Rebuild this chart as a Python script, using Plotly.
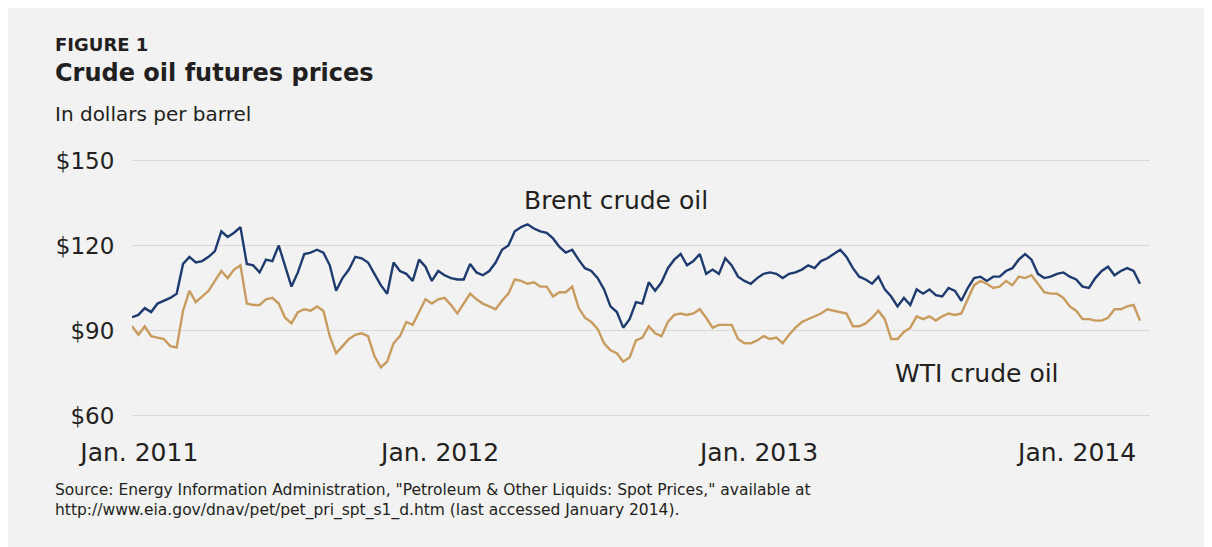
import pandas as pd
import plotly.graph_objects as go

week_start = "2011-01-03"
n_weeks = 159

brent = [
    94.7, 95.5, 97.9, 96.5, 99.5, 100.5, 101.5, 103, 113.5, 116,
    114, 114.5, 116, 118, 125, 123, 124.5, 126.5, 113.5, 113,
    110.5, 115, 114.5, 120, 113, 105.5, 110.5, 117, 117.5, 118.5,
    117.5, 113, 104, 108.5, 111.5, 116, 115.5, 114, 110, 106,
    103, 114, 111, 110, 107.5, 115, 112.5, 107.5, 111, 109.5,
    108.5, 108, 108, 113.5, 110.5, 109.5, 111, 114, 118.5, 120,
    125, 126.5, 127.5, 126, 125, 124.5, 122.5, 119.5, 117.5, 118.5,
    115, 112, 111, 108.5, 104.5, 98.5, 96.5, 91, 94, 100,
    99.5, 107, 104, 107, 112, 115, 117, 113, 114.5, 117,
    110, 111.5, 110, 115.5, 113, 109, 107.5, 106.5, 108.5, 110,
    110.5, 110, 108.5, 110, 110.5, 111.5, 113, 112, 114.5, 115.5,
    117, 118.5, 116, 112, 109, 108, 106.5, 109, 104.5, 102,
    98.5, 101.5, 99, 104.5, 103, 104.5, 102.5, 102, 105, 104,
    100.5, 105, 108.5, 109, 107.5, 109, 109, 111, 112, 115,
    117, 115, 110, 108.5, 109, 110, 110.5, 109, 108, 105.5,
    105, 108.5, 111, 112.5, 109.5, 111, 112, 111, 106.5,
]

wti = [
    91.5, 88.5, 91.5, 88, 87.5, 87, 84.5, 84, 97, 104,
    100, 102, 104, 107.5, 111, 108.5, 111.5, 113, 99.5, 99,
    99, 101, 101.5, 99.5, 94.5, 92.5, 96.5, 97.5, 97, 98.5,
    97, 88, 82, 84.5, 87, 88.5, 89, 88, 81, 77,
    79, 85.5, 88, 93, 92, 96.5, 101, 99.5, 101, 101.5,
    99, 96, 99.5, 103, 101, 99.5, 98.5, 97.5, 100.5, 103,
    108, 107.5, 106.5, 107, 105.5, 105.5, 102, 103.5, 103.5, 105.5,
    98, 94.5, 93, 90.5, 85.5, 83, 82, 79, 80.5, 86.5,
    87.5, 91.5, 89, 88, 93, 95.5, 96, 95.5, 96, 97.5,
    94.5, 91, 92, 92, 92, 87, 85.5, 85.5, 86.5, 88,
    87, 87.5, 85.5, 88.5, 91, 93, 94, 95, 96, 97.5,
    97, 96.5, 96, 91.5, 91.5, 92.5, 94.5, 97, 94, 87,
    87, 89.5, 91, 95, 94, 95, 93.5, 95, 96, 95.5,
    96, 101, 106, 107.5, 106.5, 105, 105.5, 107.5, 106, 109,
    108.5, 109.5, 106.5, 103.5, 103, 103, 101.5, 98.5, 97, 94,
    94, 93.5, 93.5, 94.5, 97.5, 97.5, 98.5, 99, 93.5,
]

dates = pd.date_range(week_start, periods=n_weeks, freq="7D")

y_ticks = [60, 90, 120, 150]
y_tick_text = ["&#36;60", "&#36;90", "&#36;120", "&#36;150"]
x_tick_dates = ["2011-01-11", "2011-12-07", "2012-11-21", "2013-11-05"]
x_tick_text = ["Jan. 2011", "Jan. 2012", "Jan. 2013", "Jan. 2014"]

FONT = "DejaVu Sans"
TXT = "#231f20"
BRENT_COLOR = "#1e3b6f"
WTI_COLOR = "#c89b5e"

fig = go.Figure()
fig.add_trace(go.Scatter(x=dates, y=wti, mode="lines", name="WTI crude oil",
                         line=dict(color=WTI_COLOR, width=2.4)))
fig.add_trace(go.Scatter(x=dates, y=brent, mode="lines", name="Brent crude oil",
                         line=dict(color=BRENT_COLOR, width=2.4)))

fig.update_layout(
    width=1212, height=547,
    paper_bgcolor="#f2f2f2", plot_bgcolor="#f2f2f2",
    margin=dict(l=124, r=70, t=144, b=131),
    showlegend=False,
    font=dict(family=FONT, color=TXT),
    xaxis=dict(
        range=["2011-01-03", "2014-01-24"],
        showgrid=False, zeroline=False, showline=False,
        tickvals=x_tick_dates, ticktext=x_tick_text,
        ticks="outside", ticklen=0, ticklabelstandoff=6,
        tickfont=dict(size=25, family=FONT, color=TXT),
    ),
    yaxis=dict(
        range=[57, 153],
        tickvals=y_ticks, ticktext=y_tick_text,
        showgrid=True, gridcolor="#d9d9d9", gridwidth=1,
        zeroline=False, showline=False,
        ticks="outside", ticklen=0, ticklabelstandoff=12,
        tickfont=dict(size=23, family=FONT, color=TXT),
    ),
)

annotations = [
    dict(text="<b>FIGURE 1</b>", x=-0.0775, y=1.395, size=18),
    dict(text="<b>Crude oil futures prices</b>", x=-0.0775, y=1.292, size=24),
    dict(text="In dollars per barrel", x=-0.0775, y=1.1415, size=20),
    dict(text="Source: Energy Information Administration, \"Petroleum &amp; Other Liquids: Spot Prices,\" available at"
              "<br>http://www.eia.gov/dnav/pet/pet_pri_spt_s1_d.htm (last accessed January 2014).",
         x=-0.0775, y=-0.283, size=15.5),
]
for a in annotations:
    fig.add_annotation(text=a["text"], xref="paper", yref="paper", x=a["x"], y=a["y"],
                       xanchor="left", yanchor="middle", align="left", showarrow=False,
                       font=dict(size=a["size"], family=FONT, color=TXT))

fig.add_annotation(text="Brent crude oil", xref="paper", yref="paper", x=0.4754, y=0.8217,
                   xanchor="center", yanchor="middle", showarrow=False,
                   font=dict(size=25, family=FONT, color=TXT))
fig.add_annotation(text="WTI crude oil", xref="paper", yref="paper", x=0.830, y=0.186,
                   xanchor="center", yanchor="middle", showarrow=False,
                   font=dict(size=25, family=FONT, color=TXT))

fig.write_html("out.html")
